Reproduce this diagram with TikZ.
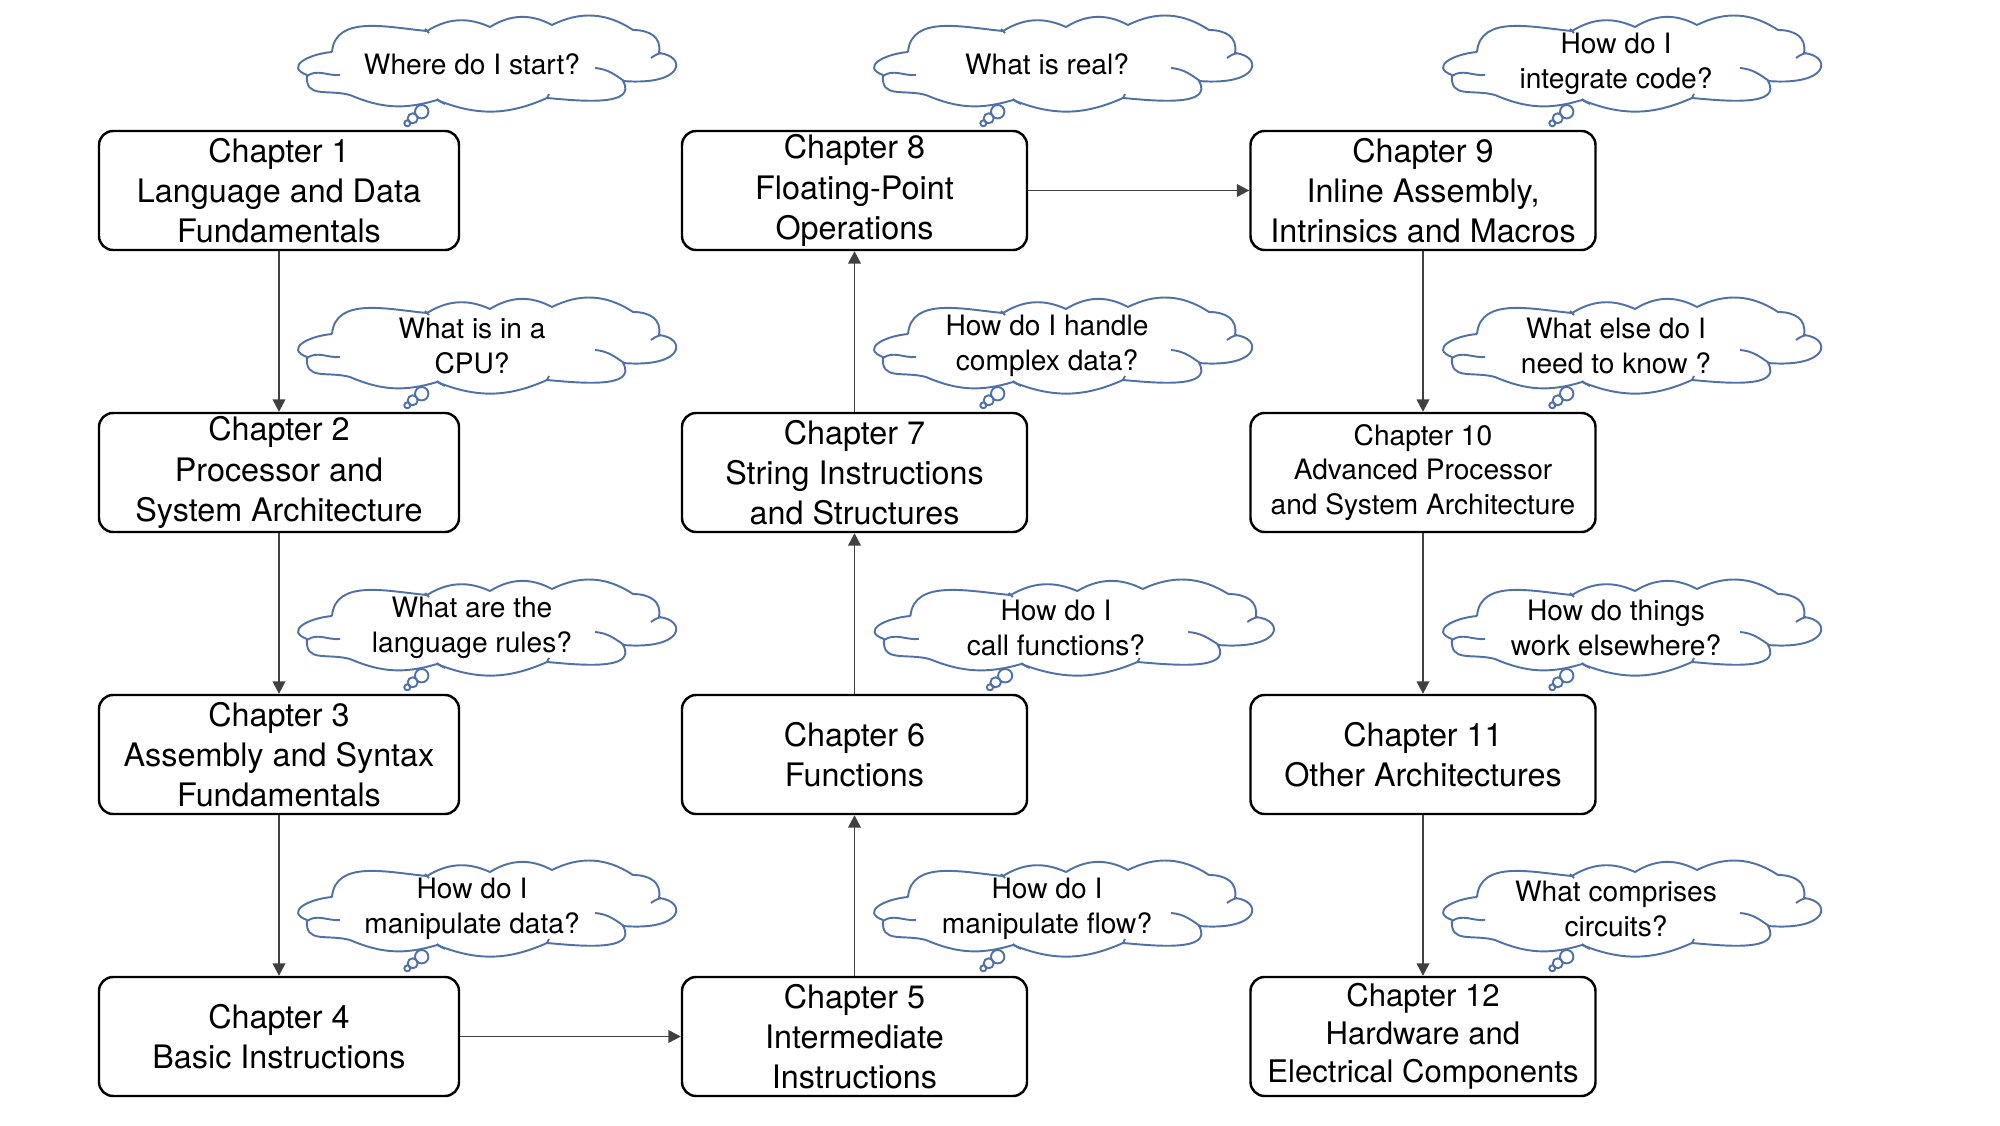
\documentclass[tikz,border=0pt]{standalone}
\usepackage{fontspec}
\setmainfont{TeX Gyre Heros}
\usepackage{tikz}
\usetikzlibrary{positioning,arrows.meta}

\definecolor{cloudblue}{RGB}{79,113,168}

\begin{document}
\begin{tikzpicture}[
		chap/.style={draw,line width=0.7pt,rounded corners=4pt,minimum height=1.19cm,
			align=center,inner sep=1pt,font=\fontsize{9.2}{11.4}\selectfont},
		wide/.style={chap,minimum width=3.6cm},
		narrow/.style={chap,minimum width=3.45cm},
		ask/.style={align=center,inner sep=0pt,font=\fontsize{8}{9.8}\selectfont},
		cloudline/.style={draw=cloudblue,line width=0.55pt,line join=round},
		link/.style={draw=black!75,line width=0.4pt,-{Triangle[length=3.5pt,width=3.6pt]}},
		pics/thinkcloud/.style={code={
			\draw[cloudline] (-1.53,0.12) to[out=85,in=175] (-0.58,0.33)
				to[bend left=28] (0.05,0.37) to[bend left=30] (0.67,0.39)
				to[bend left=30] (1.48,0.34) to[out=0,in=80,looseness=1.2] (1.74,0.11)
				.. controls (2.02,0.08) and (2.0,-0.22) .. (1.38,-0.17)
				to[out=-60,in=-5] (0.62,-0.34) to[bend left=23] (-0.48,-0.36)
				to[bend left=20] (-1.35,-0.31) to[out=165,in=-95,looseness=1.3] (-1.78,-0.11)
				to[out=160,in=185,looseness=1.8] (-1.53,0.12);
			\draw[cloudline] (-1.78,-0.12) to[out=35,in=185] (-1.45,-0.11);
			\draw[cloudline] (1.66,0.06) to[bend left=10] (1.76,0.11);
			\draw[cloudline] (1.10,-0.04) to[out=-5,in=145] (1.39,-0.17);
			\draw[cloudline] (0.62,-0.34) -- (0.64,-0.30);
			\draw[cloudline] (-0.48,-0.35) to[bend right=10] (-0.40,-0.40);
			\draw[cloudline] (-0.60,0.35) -- (-0.56,0.31);
			\draw[cloudline] (-0.633,-0.477) circle (0.067);
			\draw[cloudline] (-0.723,-0.543) circle (0.05);
			\draw[cloudline] (-0.777,-0.593) circle (0.03);
		}}
	]
			
			\useasboundingbox (0,0) rectangle (20,11.25);
			
			\node[wide] (c1) at (2.79,9.345) {Chapter 1\\Language and Data\\Fundamentals};
			\node[wide] (c2) at (2.79,6.525) {Chapter 2\\Processor and\\System Architecture};
			\node[wide] (c3) at (2.79,3.705) {Chapter 3\\Assembly and Syntax\\Fundamentals};
			\node[wide] (c4) at (2.79,0.885) {Chapter 4\\Basic Instructions};
			\node[narrow] (c5) at (8.545,0.885) {Chapter 5\\Intermediate\\Instructions};
			\node[narrow] (c6) at (8.545,3.705) {Chapter 6\\Functions};
			\node[narrow] (c7) at (8.545,6.525) {Chapter 7\\String Instructions\\and Structures};
			\node[narrow] (c8) at (8.545,9.345) {Chapter 8\\Floating-Point\\Operations};
			\node[narrow] (c9) at (14.23,9.345) {Chapter 9\\Inline Assembly,\\Intrinsics and Macros};
			\node[narrow,font=\fontsize{8}{9.8}\selectfont] (c10) at (14.23,6.525) {Chapter 10\\Advanced Processor\\and System Architecture};
			\node[narrow] (c11) at (14.23,3.705) {Chapter 11\\Other Architectures};
			\node[narrow,font=\fontsize{8.85}{10.8}\selectfont] (c12) at (14.23,0.885) {Chapter 12\\Hardware and\\Electrical Components};
			
			% question clouds
			\pic at (4.85,10.61) {thinkcloud};
			\pic at (4.85,7.79) {thinkcloud};
			\pic at (4.85,4.97) {thinkcloud};
			\pic at (4.85,2.16) {thinkcloud};
			\pic at (10.61,10.61) {thinkcloud};
			\pic at (10.61,7.79) {thinkcloud};
			\pic[xscale=1.056] at (10.72,4.97) {thinkcloud};
			\pic at (10.61,2.16) {thinkcloud};
			\pic at (16.30,10.61) {thinkcloud};
			\pic at (16.30,7.79) {thinkcloud};
			\pic at (16.30,4.97) {thinkcloud};
			\pic at (16.30,2.16) {thinkcloud};
			
			\node[ask] (q1) at (4.72,10.61) {Where do I start?};
			\node[ask] (q2) at (4.72,7.79) {What is in a\\CPU?};
			\node[ask] (q3) at (4.72,4.97) {What are the\\language rules?};
			\node[ask] (q4) at (4.72,2.16) {How do I\\manipulate data?};
			\node[ask] (q5) at (10.47,10.61) {What is real?};
			\node[ask] (q6) at (10.47,7.79) {How do I handle\\complex data?};
			\node[ask] (q7) at (10.56,4.97) {How do I\\call functions?};
			\node[ask] (q8) at (10.47,2.16) {How do I\\manipulate flow?};
			\node[ask] (q9) at (16.16,10.61) {How do I\\integrate code?};
			\node[ask] (q10) at (16.16,7.79) {What else do I\\need to know ?};
			\node[ask] (q11) at (16.16,4.97) {How do things\\work elsewhere?};
			\node[ask] (q12) at (16.16,2.16) {What comprises\\circuits?};
			
			\draw[link] (c1)--(c2);
			\draw[link] (c2)--(c3);
			\draw[link] (c3)--(c4);
			\draw[link] (c4)--(c5);
			\draw[link] (c5)--(c6);
			\draw[link] (c6)--(c7);
			\draw[link] (c7)--(c8);
			\draw[link] (c8)--(c9);
			\draw[link] (c9)--(c10);
			\draw[link] (c10)--(c11);
			\draw[link] (c11)--(c12);
			
		\end{tikzpicture}
\end{document}
